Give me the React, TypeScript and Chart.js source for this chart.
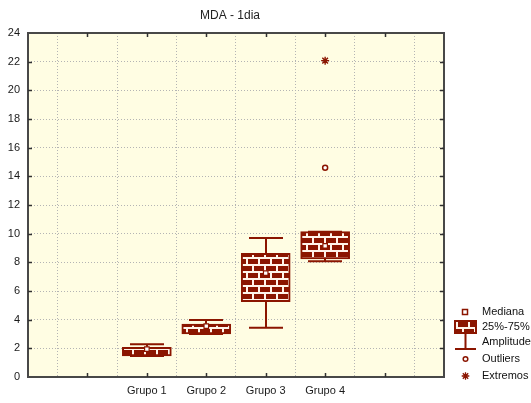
import React, { useEffect, useRef } from 'react';
import { Chart, registerables } from 'chart.js';

Chart.register(...registerables);

// ---- data ----
const chartTitle = 'MDA - 1dia';
const xTickLabels = ['', '', 'Grupo 1', 'Grupo 2', 'Grupo 3', 'Grupo 4', '', ''];
const groups = ['Grupo 1', 'Grupo 2', 'Grupo 3', 'Grupo 4'];
const minValues = [1.47, 3.0, 3.44, 8.07];
const q1Values = [1.47, 3.0, 5.26, 8.23];
const medianValues = [1.95, 3.55, 7.25, 9.15];
const q3Values = [2.07, 3.7, 8.63, 10.14];
const maxValues = [2.28, 3.98, 9.7, 10.14];
const outlierValues: (number | null)[] = [null, null, null, 14.6];
const extremeValues: (number | null)[] = [null, null, null, 22.07];
const legendLabels = ['Mediana', '25%-75%', 'Amplitude', 'Outliers', 'Extremos'];
const yMin = 0;
const yMax = 24;
const yStep = 2;

// ---- styles ----
const RED = '#8B1500';
const MORTAR = '#FFF4EA';
const PLOT_BG = '#FFFDE3';
const GRID = '#b4b4b4';
const FONT = 'Arial, "Liberation Sans", sans-serif';

const alignToLabels = (arr: (number | null)[]) =>
  xTickLabels.map((l) => {
    const i = groups.indexOf(l);
    return i >= 0 ? arr[i] : null;
  });

function makeBrickPattern(ctx: CanvasRenderingContext2D) {
  const c = document.createElement('canvas');
  c.width = 12;
  c.height = 14;
  const p = c.getContext('2d')!;
  p.fillStyle = RED;
  p.fillRect(0, 0, 12, 14);
  p.fillStyle = MORTAR;
  p.fillRect(0, 5, 12, 2);
  p.fillRect(0, 0, 2, 5);
  p.fillRect(0, 12, 12, 2);
  p.fillRect(6, 7, 2, 5);
  return ctx.createPattern(c, 'repeat')!;
}

function drawStar(ctx: CanvasRenderingContext2D, x: number, y: number, r: number) {
  ctx.beginPath();
  for (let k = 0; k < 4; k++) {
    const ang = (k * Math.PI) / 4;
    ctx.moveTo(x - Math.cos(ang) * r, y - Math.sin(ang) * r);
    ctx.lineTo(x + Math.cos(ang) * r, y + Math.sin(ang) * r);
  }
  ctx.stroke();
}

export default function App() {
  const ref = useRef<HTMLCanvasElement>(null);

  useEffect(() => {
    document.body.style.margin = '0';
    const canvas = ref.current!;
    const ctx0 = canvas.getContext('2d')!;
    const pattern = makeBrickPattern(ctx0);

    const plugin = {
      id: 'statStyle',
      beforeDraw(chart: any) {
        const { ctx, chartArea: a } = chart;
        ctx.save();
        ctx.fillStyle = '#ffffff';
        ctx.fillRect(0, 0, chart.width, chart.height);
        ctx.fillStyle = PLOT_BG;
        ctx.fillRect(a.left, a.top, a.right - a.left, a.bottom - a.top);
        ctx.restore();
      },
      beforeDatasetsDraw(chart: any) {
        const { ctx } = chart;
        const xs = chart.scales.x;
        const ys = chart.scales.y;
        ctx.save();
        ctx.strokeStyle = RED;
        ctx.lineWidth = 2;
        groups.forEach((g, i) => {
          const x = Math.round(xs.getPixelForValue(xTickLabels.indexOf(g)));
          const yLo = ys.getPixelForValue(minValues[i]);
          const yHi = ys.getPixelForValue(maxValues[i]);
          ctx.beginPath();
          ctx.moveTo(x, yLo);
          ctx.lineTo(x, yHi);
          ctx.moveTo(x - 17, yLo);
          ctx.lineTo(x + 17, yLo);
          ctx.moveTo(x - 17, yHi);
          ctx.lineTo(x + 17, yHi);
          ctx.stroke();
        });
        ctx.restore();
      },
      afterDraw(chart: any) {
        const { ctx, chartArea: a } = chart;
        const xs = chart.scales.x;
        const ys = chart.scales.y;
        ctx.save();
        ctx.strokeStyle = '#484848';
        ctx.lineWidth = 2;
        ctx.strokeRect(a.left, a.top, a.right - a.left, a.bottom - a.top);
        ctx.lineWidth = 1.5;
        ctx.strokeStyle = '#303030';
        ctx.beginPath();
        for (let v = yMin + yStep; v < yMax; v += yStep) {
          const y = Math.round(ys.getPixelForValue(v)) + 0.5;
          ctx.moveTo(a.left, y);
          ctx.lineTo(a.left + 4, y);
          ctx.moveTo(a.right - 4, y);
          ctx.lineTo(a.right, y);
        }
        for (let k = 1; k < xTickLabels.length - 1; k++) {
          const x = Math.round(xs.getPixelForValue(k)) + 0.5;
          ctx.moveTo(x, a.bottom);
          ctx.lineTo(x, a.bottom - 4);
          ctx.moveTo(x, a.top);
          ctx.lineTo(x, a.top + 4);
        }
        ctx.stroke();

        ctx.fillStyle = '#222';
        ctx.font = `12px ${FONT}`;
        ctx.textAlign = 'center';
        ctx.textBaseline = 'middle';
        ctx.fillText(chartTitle, (a.left + a.right) / 2 - 6, 16);

        const ix = a.right + 21;
        const tx = a.right + 38;
        const ly = [312, 327, 342, 359, 376];
        ctx.font = `11px ${FONT}`;
        ctx.textAlign = 'left';
        ctx.fillStyle = '#111';
        legendLabels.forEach((t, k) => ctx.fillText(t, tx, ly[k]));

        ctx.fillStyle = '#fff';
        ctx.strokeStyle = RED;
        ctx.lineWidth = 1.5;
        ctx.fillRect(ix - 2.5, ly[0] - 2.5, 5, 5);
        ctx.strokeRect(ix - 2.5, ly[0] - 2.5, 5, 5);
        ctx.fillStyle = pattern;
        ctx.fillRect(ix - 10, 321, 21, 12);
        ctx.lineWidth = 2;
        ctx.strokeRect(ix - 10, 321, 21, 12);
        ctx.beginPath();
        ctx.moveTo(ix + 0.5, 333);
        ctx.lineTo(ix + 0.5, 349);
        ctx.moveTo(ix - 10, 349);
        ctx.lineTo(ix + 11, 349);
        ctx.stroke();
        ctx.lineWidth = 1.5;
        ctx.fillStyle = '#fff';
        ctx.beginPath();
        ctx.arc(ix + 0.5, ly[3], 2.3, 0, Math.PI * 2);
        ctx.fill();
        ctx.stroke();
        ctx.lineWidth = 1.3;
        drawStar(ctx, ix + 0.5, ly[4], 3.8);
        ctx.restore();
      },
    };

    const chart = new Chart(canvas, {
      type: 'bar',
      data: {
        labels: xTickLabels,
        datasets: [
          {
            type: 'bar',
            label: '25%-75%',
            data: xTickLabels.map((l) => {
              const i = groups.indexOf(l);
              return i >= 0 ? [q1Values[i], q3Values[i]] : null;
            }) as any,
            backgroundColor: pattern as any,
            borderColor: RED,
            borderWidth: 2,
            borderSkipped: false,
            barThickness: 49,
            order: 3,
          },
          {
            type: 'line',
            label: 'Mediana',
            data: alignToLabels(medianValues),
            showLine: false,
            pointStyle: 'rect',
            pointRadius: 3.2,
            pointBackgroundColor: '#fff',
            pointBorderColor: RED,
            pointBorderWidth: 1.2,
            order: 1,
          },
          {
            type: 'line',
            label: 'Outliers',
            data: alignToLabels(outlierValues),
            showLine: false,
            pointStyle: 'circle',
            pointRadius: 2.5,
            pointBackgroundColor: '#fff',
            pointBorderColor: RED,
            pointBorderWidth: 1.5,
            order: 1,
          },
          {
            type: 'line',
            label: 'Extremos',
            data: alignToLabels(extremeValues),
            showLine: false,
            pointStyle: 'star',
            pointRadius: 4,
            pointBackgroundColor: RED,
            pointBorderColor: RED,
            pointBorderWidth: 1.4,
            order: 1,
          },
        ],
      },
      options: {
        responsive: false,
        animation: false,
        events: [],
        layout: { padding: { top: 33, right: 87, left: 0, bottom: 0 } },
        plugins: {
          legend: { display: false },
          tooltip: { enabled: false },
          title: { display: false },
        },
        scales: {
          x: {
            type: 'category',
            offset: false,
            grid: { color: GRID, lineWidth: 1, drawTicks: false },
            border: { display: false, dash: [1, 2] },
            ticks: {
              padding: 7,
              color: '#1a1a1a',
              font: { family: FONT, size: 11 },
              autoSkip: false,
              maxRotation: 0,
            },
            afterFit: (s: any) => {
              s.height = 26;
            },
          },
          y: {
            type: 'linear',
            min: yMin,
            max: yMax,
            grid: { color: GRID, lineWidth: 1, drawTicks: false },
            border: { display: false, dash: [1, 2] },
            ticks: {
              stepSize: yStep,
              padding: 8,
              color: '#1a1a1a',
              font: { family: FONT, size: 11 },
            },
            afterFit: (s: any) => {
              s.width = 28;
            },
          },
        },
      },
      plugins: [plugin],
    });

    return () => chart.destroy();
  }, []);

  return (
    <div style={{ width: 531, height: 403 }}>
      <canvas ref={ref} width={531} height={403} style={{ display: 'block' }} />
    </div>
  );
}
